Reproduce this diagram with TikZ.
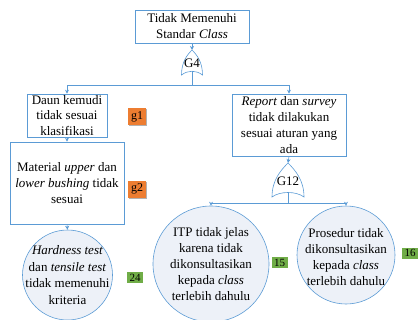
\documentclass[tikz,border=0pt]{standalone}
\usepackage{fontspec}
\setmainfont{Liberation Serif}
\usetikzlibrary{calc}
\usetikzlibrary{arrows.meta,shadows}
\definecolor{garis}{RGB}{91,155,213}
\definecolor{isi}{RGB}{237,241,248}
\definecolor{oranye}{RGB}{237,125,49}
\definecolor{hijau}{RGB}{112,173,71}

\tikzset{
  kotak/.style={draw=garis, line width=0.6pt, fill=white, inner sep=0pt, align=center, font=\fontsize{13}{16}\selectfont},
  lingkaran/.style={circle, draw=garis, line width=0.6pt, fill=isi, inner sep=0pt},
  teks/.style={inner sep=0pt, align=center, font=\fontsize{13}{16}\selectfont},
  panah/.style={draw=garis, line width=0.6pt, -{Stealth[length=4pt,width=4pt]}},
  garisan/.style={draw=garis, line width=0.6pt},
  kodeg/.style={fill=oranye, inner sep=0pt, minimum width=18pt, minimum height=17pt, font=\fontsize{12}{12}\selectfont, drop shadow={shadow xshift=1pt, shadow yshift=-1pt, fill=black!30, opacity=1}},
  kodeh/.style={fill=hijau, inner sep=0pt, minimum width=16pt, minimum height=11pt, font=\fontsize{11}{11}\selectfont}
}

\begin{document}
\begin{tikzpicture}[x=1pt, y=-1pt]

\useasboundingbox (0,0) rectangle (419,320);

% kotak kejadian
\node[kotak, minimum width=114pt, minimum height=33pt] (puncak) at (192,26.5) {Tidak Memenuhi\\Standar \textit{Class}};
\node[kotak, minimum width=80pt, minimum height=43pt, font=\fontsize{13}{15.5}\selectfont] (daun) at (67,115.5) {Daun kemudi\\tidak sesuai\\klasifikasi};
\node[kotak, minimum width=114pt, minimum height=82pt] (material) at (67,183) {Material \textit{upper} dan\\\textit{lower bushing} tidak\\sesuai};
\node[kotak, minimum width=114pt, minimum height=62pt] (report) at (289,125) {\textit{Report} dan \textit{survey}\\tidak dilakukan\\sesuai aturan yang\\ada};

% kejadian dasar
\node[lingkaran, minimum size=90pt] (uji) at (67.5,275) {};
\node[teks, font=\fontsize{13}{16.7}\selectfont] (ujit) at (uji) {\textit{Hardness test}\\dan \textit{tensile test}\\tidak memenuhi\\kriteria};
\node[lingkaran, minimum size=116pt] (itp) at (211,264) {};
\node[teks] (itpt) at (itp) {ITP tidak jelas\\karena tidak\\dikonsultasikan\\kepada \textit{class}\\terlebih dahulu};
\node[lingkaran, minimum size=98pt] (prosedur) at (346,255) {};
\node[teks] (prosedurt) at ($(prosedur)+(0,2)$) {Prosedur tidak\\dikonsultasikan\\kepada \textit{class}\\terlebih dahulu};

% gerbang OR
\draw[garisan] (181.5,75) .. controls (181.5,62) and (187,55) .. (192,50)
  .. controls (197,55) and (202.5,62) .. (202.5,75)
  .. controls (196,70) and (188,70) .. cycle;
\node[teks] (g4) at (192,63) {G4};
\coordinate (g4atas) at (192,50);
\coordinate (g4bawah) at (192,71.5);
\coordinate (j4) at (192,85);

\draw[garisan] (272,197) .. controls (272,180) and (281,170) .. (288,163)
  .. controls (295,170) and (304,180) .. (304,197)
  .. controls (296,191) and (280,191) .. cycle;
\node[teks] (g12) at (288,181) {G12};
\coordinate (g12atas) at (288,163);
\coordinate (g12bawah) at (288,192.5);
\coordinate (j12) at (288,203);

% kode
\node[kodeg] (kg1) at (137,116.5) {g1};
\node[kodeg] (kg2) at (137,189) {g2};
\node[kodeh] (k24) at (135,277.5) {24};
\node[kodeh] (k15) at (279.5,262.5) {15};
\node[kodeh] (k16) at (410,253) {16};

% penghubung
\draw[panah] (puncak.south) -- (g4atas);
\draw[garisan] (g4bawah) -- (j4);
\draw[panah] (j4) -| (daun.north);
\draw[panah] (j4) -| (report.north);
\draw[panah] (daun.south) -- (material.north);
\draw[panah] (material.south) -- (uji.north);
\draw[panah] (report.south) -- (g12atas);
\draw[garisan] (g12bawah) -- (j12);
\draw[panah] (j12) -| (itp.north);
\draw[panah] (j12) -| (prosedur.north);

\end{tikzpicture}
\end{document}
